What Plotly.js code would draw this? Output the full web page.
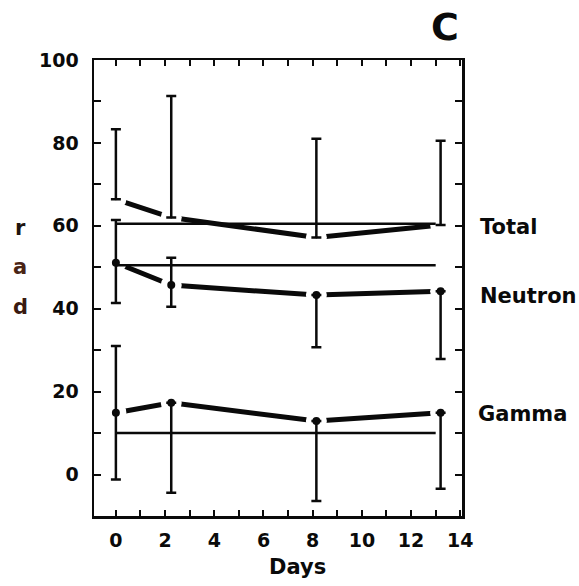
<!DOCTYPE html>
<html>
<head>
<meta charset="utf-8">
<script src="https://cdn.plot.ly/plotly-3.0.1.min.js"></script>
<style>html,body{margin:0;padding:0;background:#fff;}#chart{width:579px;height:586px;}</style>
</head>
<body>
<div id="chart"></div>
<script>
// ---- data ----
var days = [0, 2.25, 8.15, 13.2];

var totalMean = [66.4, 62.0, 57.2, 60.2];
var totalUp = [16.9, 29.3, 23.8, 20.3];
var totalDown = [0, 0, 0, 0];

var neutronMean = [51.1, 45.7, 43.3, 44.2];
var neutronUp = [10.3, 6.6, 0, 0];
var neutronDown = [9.7, 5.2, 12.6, 16.3];

var gammaMean = [14.9, 17.3, 12.9, 14.9];
var gammaUp = [16.1, 0, 0, 0];
var gammaDown = [16.1, 21.7, 19.3, 18.3];

var refDays = [0, 13.0];
var refTotal = 60.5;
var refNeutron = 50.5;
var refGamma = 10;

var seriesNames = ['Total', 'Neutron', 'Gamma'];
var xTickVals = [0, 2, 4, 6, 8, 10, 12, 14];
var yTickVals = [0, 20, 40, 60, 80, 100];

// ---- styling ----
var INK = '#0a0a0a';
var FONT = 'DejaVu Sans';
var means = [totalMean, neutronMean, gammaMean];
var ups = [totalUp, neutronUp, gammaUp];
var downs = [totalDown, neutronDown, gammaDown];
var refs = [refTotal, refNeutron, refGamma];

var traces = [];
// thick connecting lines, with white markers that open small gaps at the points
means.forEach(function (m, i) {
  traces.push({x: days, y: m, type: 'scatter', mode: 'lines+markers',
    line: {color: INK, width: 5},
    marker: {color: '#ffffff', size: 21, opacity: 1, line: {width: 0, color: '#ffffff'}},
    hoverinfo: 'skip', showlegend: false, name: seriesNames[i]});
});
// thin reference lines
refs.forEach(function (r) {
  traces.push({x: refDays, y: [r, r], type: 'scatter', mode: 'lines',
    line: {color: INK, width: 2.5}, hoverinfo: 'skip', showlegend: false});
});
// error bars and markers
means.forEach(function (m, i) {
  traces.push({x: days, y: m, type: 'scatter', mode: 'markers', name: seriesNames[i],
    marker: {color: INK, size: i === 0 ? 2 : 8},
    error_y: {type: 'data', symmetric: false, array: ups[i], arrayminus: downs[i],
      color: INK, thickness: 2.5, width: 5},
    showlegend: false});
});

var L = 94, R = 462, T = 60, B = 516;
function px(xp) { return (xp - L) / (R - L); }
function py(yp) { return (B - yp) / (B - T); }

var annFont = {family: FONT, size: 21, color: INK, weight: 'bold'};
var annotations = [
  {text: 'Total', x: px(478), y: py(227), xanchor: 'left', yanchor: 'middle'},
  {text: 'Neutron', x: px(478), y: py(296), xanchor: 'left', yanchor: 'middle'},
  {text: 'Gamma', x: px(476), y: py(414), xanchor: 'left', yanchor: 'middle'},
  {text: 'C', x: px(445), y: py(27), xanchor: 'center', yanchor: 'middle',
    font: {family: FONT, size: 38, color: INK, weight: 'bold'}},
  {text: 'Days', x: px(297), y: py(567), xanchor: 'center', yanchor: 'middle'},
  {text: 'r', x: px(20), y: py(228), xanchor: 'center', yanchor: 'middle',
    font: {family: FONT, size: 21, color: '#1e1410', weight: 'bold'}},
  {text: 'a', x: px(20), y: py(267), xanchor: 'center', yanchor: 'middle',
    font: {family: FONT, size: 21, color: '#4a2414', weight: 'bold'}},
  {text: 'd', x: px(20), y: py(307), xanchor: 'center', yanchor: 'middle',
    font: {family: FONT, size: 21, color: '#3a1a10', weight: 'bold'}}
].map(function (a) {
  return Object.assign({xref: 'paper', yref: 'paper', showarrow: false, font: annFont}, a);
});

var layout = {
  width: 579, height: 586,
  margin: {l: L, r: 579 - R, t: T, b: 586 - B, pad: 0},
  paper_bgcolor: '#ffffff', plot_bgcolor: '#ffffff',
  showlegend: false,
  xaxis: {
    range: [-0.89, 14.07], tickmode: 'array', tickvals: xTickVals,
    ticks: 'inside', ticklen: 6, tickwidth: 2, tickcolor: INK,
    minor: {dtick: 1, tick0: 0, ticks: 'inside', ticklen: 6, tickwidth: 2, tickcolor: INK},
    showline: true, linecolor: INK, linewidth: 2.5, mirror: 'ticks',
    showgrid: false, zeroline: false, ticklabelstandoff: 6,
    tickfont: {family: FONT, size: 19, color: INK, weight: 'bold'}
  },
  yaxis: {
    range: [-10, 100], tickmode: 'array', tickvals: yTickVals,
    ticks: 'inside', ticklen: 7, tickwidth: 2, tickcolor: INK,
    minor: {dtick: 10, tick0: 0, ticks: 'inside', ticklen: 7, tickwidth: 2, tickcolor: INK},
    showline: true, linecolor: INK, linewidth: 2.5, mirror: 'ticks',
    showgrid: false, zeroline: false, ticklabelstandoff: 9,
    tickfont: {family: FONT, size: 19, color: INK, weight: 'bold'}
  },
  annotations: annotations
};

Plotly.newPlot('chart', traces, layout, {displayModeBar: false, staticPlot: true});
</script>
</body>
</html>
